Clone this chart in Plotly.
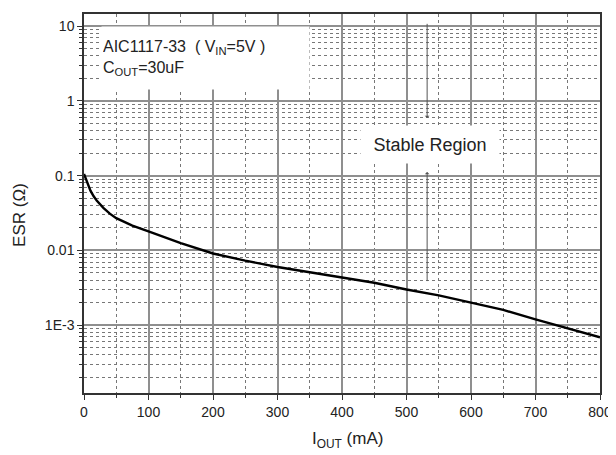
import plotly.graph_objects as go
import math

# Data
iout_ma = [0, 2, 5, 10, 15, 20, 30, 40, 50, 60, 75, 100, 150, 200, 250, 300,
           350, 400, 450, 500, 550, 600, 650, 700, 750, 800]
esr_ohm = [0.105, 0.095, 0.08, 0.063, 0.053, 0.046, 0.037, 0.031, 0.027,
           0.0245, 0.0215, 0.018, 0.0125, 0.0091, 0.0073, 0.006, 0.0051,
           0.0044, 0.0037, 0.0030, 0.0025, 0.0020, 0.0016, 0.0012, 0.00092,
           0.00069]

y_tickvals = [10, 1, 0.1, 0.01, 0.001]
y_ticktext = ["10", "1", "0.1", "0.01", "1E-3"]
x_tickvals = [0, 100, 200, 300, 400, 500, 600, 700, 800]

minor_y = [m * 10 ** e for e in range(-4, 2) for m in range(2, 10)]

font = "Liberation Sans, Arial, sans-serif"

fig = go.Figure()
fig.add_trace(go.Scatter(x=iout_ma, y=esr_ohm, mode="lines",
                         line=dict(color="black", width=2.4),
                         showlegend=False, cliponaxis=False))

# the page body has an 8px margin, so the figure is sized to fit inside it
fig.update_layout(
    width=608, height=447,
    margin=dict(l=76, r=16, t=6, b=62),
    paper_bgcolor="white", plot_bgcolor="white",
    font=dict(family=font, size=14, color="#222"),
    xaxis=dict(
        range=[0, 800], tickvals=x_tickvals, automargin=False,
        showgrid=True, gridcolor="#8f8f8f", gridwidth=1.8,
        showline=True, linecolor="#333", linewidth=1.5, mirror=True,
        ticks="outside", ticklen=5, tickcolor="#333",
        zeroline=False,
        minor=dict(dtick=50, tick0=0, showgrid=True, gridcolor="#777",
                   griddash="dot", gridwidth=1, ticks="outside", ticklen=3,
                   tickcolor="#333"),
    ),
    yaxis=dict(
        type="log", range=[math.log10(1.24e-4), math.log10(14.5)],
        tickvals=y_tickvals, ticktext=y_ticktext, automargin=False,
        showgrid=True, gridcolor="#8f8f8f", gridwidth=1.8,
        showline=True, linecolor="#333", linewidth=1.5, mirror=True,
        ticks="outside", ticklen=5, tickcolor="#333",
        zeroline=False,
        minor=dict(tickvals=minor_y, showgrid=True, gridcolor="#777",
                   griddash="dot", gridwidth=1, ticks="outside", ticklen=3,
                   tickcolor="#333"),
    ),
    annotations=[
        # axis titles
        dict(x=-0.124, y=0.47, xref="paper", yref="paper", text="ESR (Ω)",
             textangle=-90, showarrow=False, xanchor="center", yanchor="middle",
             font=dict(size=17, color="#222")),
        dict(x=0.51, y=-0.125, xref="paper", yref="paper",
             text="I<sub>OUT</sub> (mA)", showarrow=False,
             xanchor="center", yanchor="middle",
             font=dict(size=17, color="#222")),
        # chart notes
        dict(x=189, y=0.573, xref="x", yref="y",
             text="AIC1117-33  ( V<sub>IN</sub>=5V )<br>C<sub>OUT</sub>=30uF",
             showarrow=False, align="left", bgcolor="white",
             width=205, height=60, xanchor="center", yanchor="middle",
             font=dict(size=16, color="#222")),
        dict(x=536, y=-0.587, xref="x", yref="y", text="Stable Region",
             showarrow=False, bgcolor="white", width=136, height=35,
             font=dict(size=18, color="#222")),
        dict(x=532, y=-0.23, ax=532, ay=1.05, xref="x", yref="y",
             axref="x", ayref="y", text="", showarrow=True,
             arrowhead=1, arrowsize=0.8, arrowwidth=1, arrowcolor="#555"),
        dict(x=532, y=-0.95, ax=532, ay=-2.43, xref="x", yref="y",
             axref="x", ayref="y", text="", showarrow=True,
             arrowhead=1, arrowsize=0.8, arrowwidth=1, arrowcolor="#555"),
    ],
)

fig.write_html("out.html")
